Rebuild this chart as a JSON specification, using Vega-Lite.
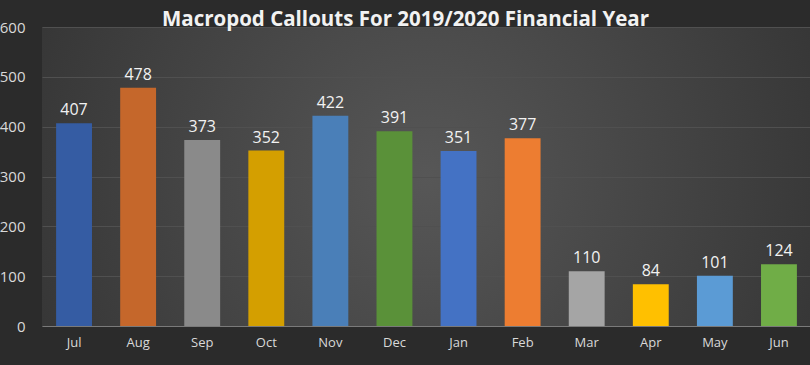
{
  "$schema": "https://vega.github.io/schema/vega-lite/v6.json",
  "width": 769,
  "height": 299,
  "autosize": {"type": "none"},
  "padding": {"left": 42, "top": 27, "right": 0, "bottom": 39},
  "background": "#2b2b2b",
  "title": {
    "text": "Macropod Callouts For 2019/2020 Financial Year",
    "font": "Open Sans",
    "fontSize": 20.5,
    "fontWeight": "bold",
    "color": "#f2f2f2",
    "anchor": "middle",
    "frame": "group",
    "dx": -21,
    "offset": -10
  },
  "config": {
    "view": {
      "stroke": null,
      "fill": {
        "gradient": "radial",
        "x1": 0.5, "y1": 0.5, "r1": 0,
        "x2": 0.5, "y2": 0.5, "r2": 0.75,
        "stops": [
          {"offset": 0, "color": "#575757"},
          {"offset": 1, "color": "#2a2a2a"}
        ]
      }
    },
    "font": "Open Sans"
  },
  "data": {
    "values": [
      {"month": "Jul", "callouts": 407},
      {"month": "Aug", "callouts": 478},
      {"month": "Sep", "callouts": 373},
      {"month": "Oct", "callouts": 352},
      {"month": "Nov", "callouts": 422},
      {"month": "Dec", "callouts": 391},
      {"month": "Jan", "callouts": 351},
      {"month": "Feb", "callouts": 377},
      {"month": "Mar", "callouts": 110},
      {"month": "Apr", "callouts": 84},
      {"month": "May", "callouts": 101},
      {"month": "Jun", "callouts": 124}
    ]
  },
  "encoding": {
    "x": {
      "field": "month",
      "type": "nominal",
      "sort": null,
      "scale": {"paddingInner": 0.44, "paddingOuter": 0.22},
      "axis": {
        "title": null,
        "labelAngle": 0,
        "labelColor": "#d9d9d9",
        "labelFontSize": 13,
        "labelPadding": 10,
        "ticks": false,
        "domainColor": "#7a7a7a",
        "domainWidth": 1
      }
    },
    "y": {
      "field": "callouts",
      "type": "quantitative",
      "scale": {"domain": [0, 600]},
      "axis": {
        "title": null,
        "values": [0, 100, 200, 300, 400, 500, 600],
        "labelColor": "#d9d9d9",
        "labelFontSize": 15,
        "labelPadding": 17,
        "ticks": false,
        "domain": false,
        "gridColor": "#505050",
        "gridWidth": 1
      }
    }
  },
  "layer": [
    {
      "mark": {"type": "bar"},
      "encoding": {
        "color": {
          "field": "month",
          "type": "nominal",
          "legend": null,
          "scale": {
            "domain": ["Jul", "Aug", "Sep", "Oct", "Nov", "Dec", "Jan", "Feb", "Mar", "Apr", "May", "Jun"],
            "range": ["#355ca3", "#c5672b", "#8a8a8a", "#d49f00", "#4a7fb8", "#5a9139", "#4472c4", "#ed7d31", "#a5a5a5", "#ffc000", "#5b9bd5", "#70ad47"]
          }
        }
      }
    },
    {
      "mark": {"type": "text", "dy": -13, "fontSize": 16, "color": "#f2f2f2"},
      "encoding": {
        "text": {"field": "callouts", "type": "quantitative"}
      }
    }
  ]
}
